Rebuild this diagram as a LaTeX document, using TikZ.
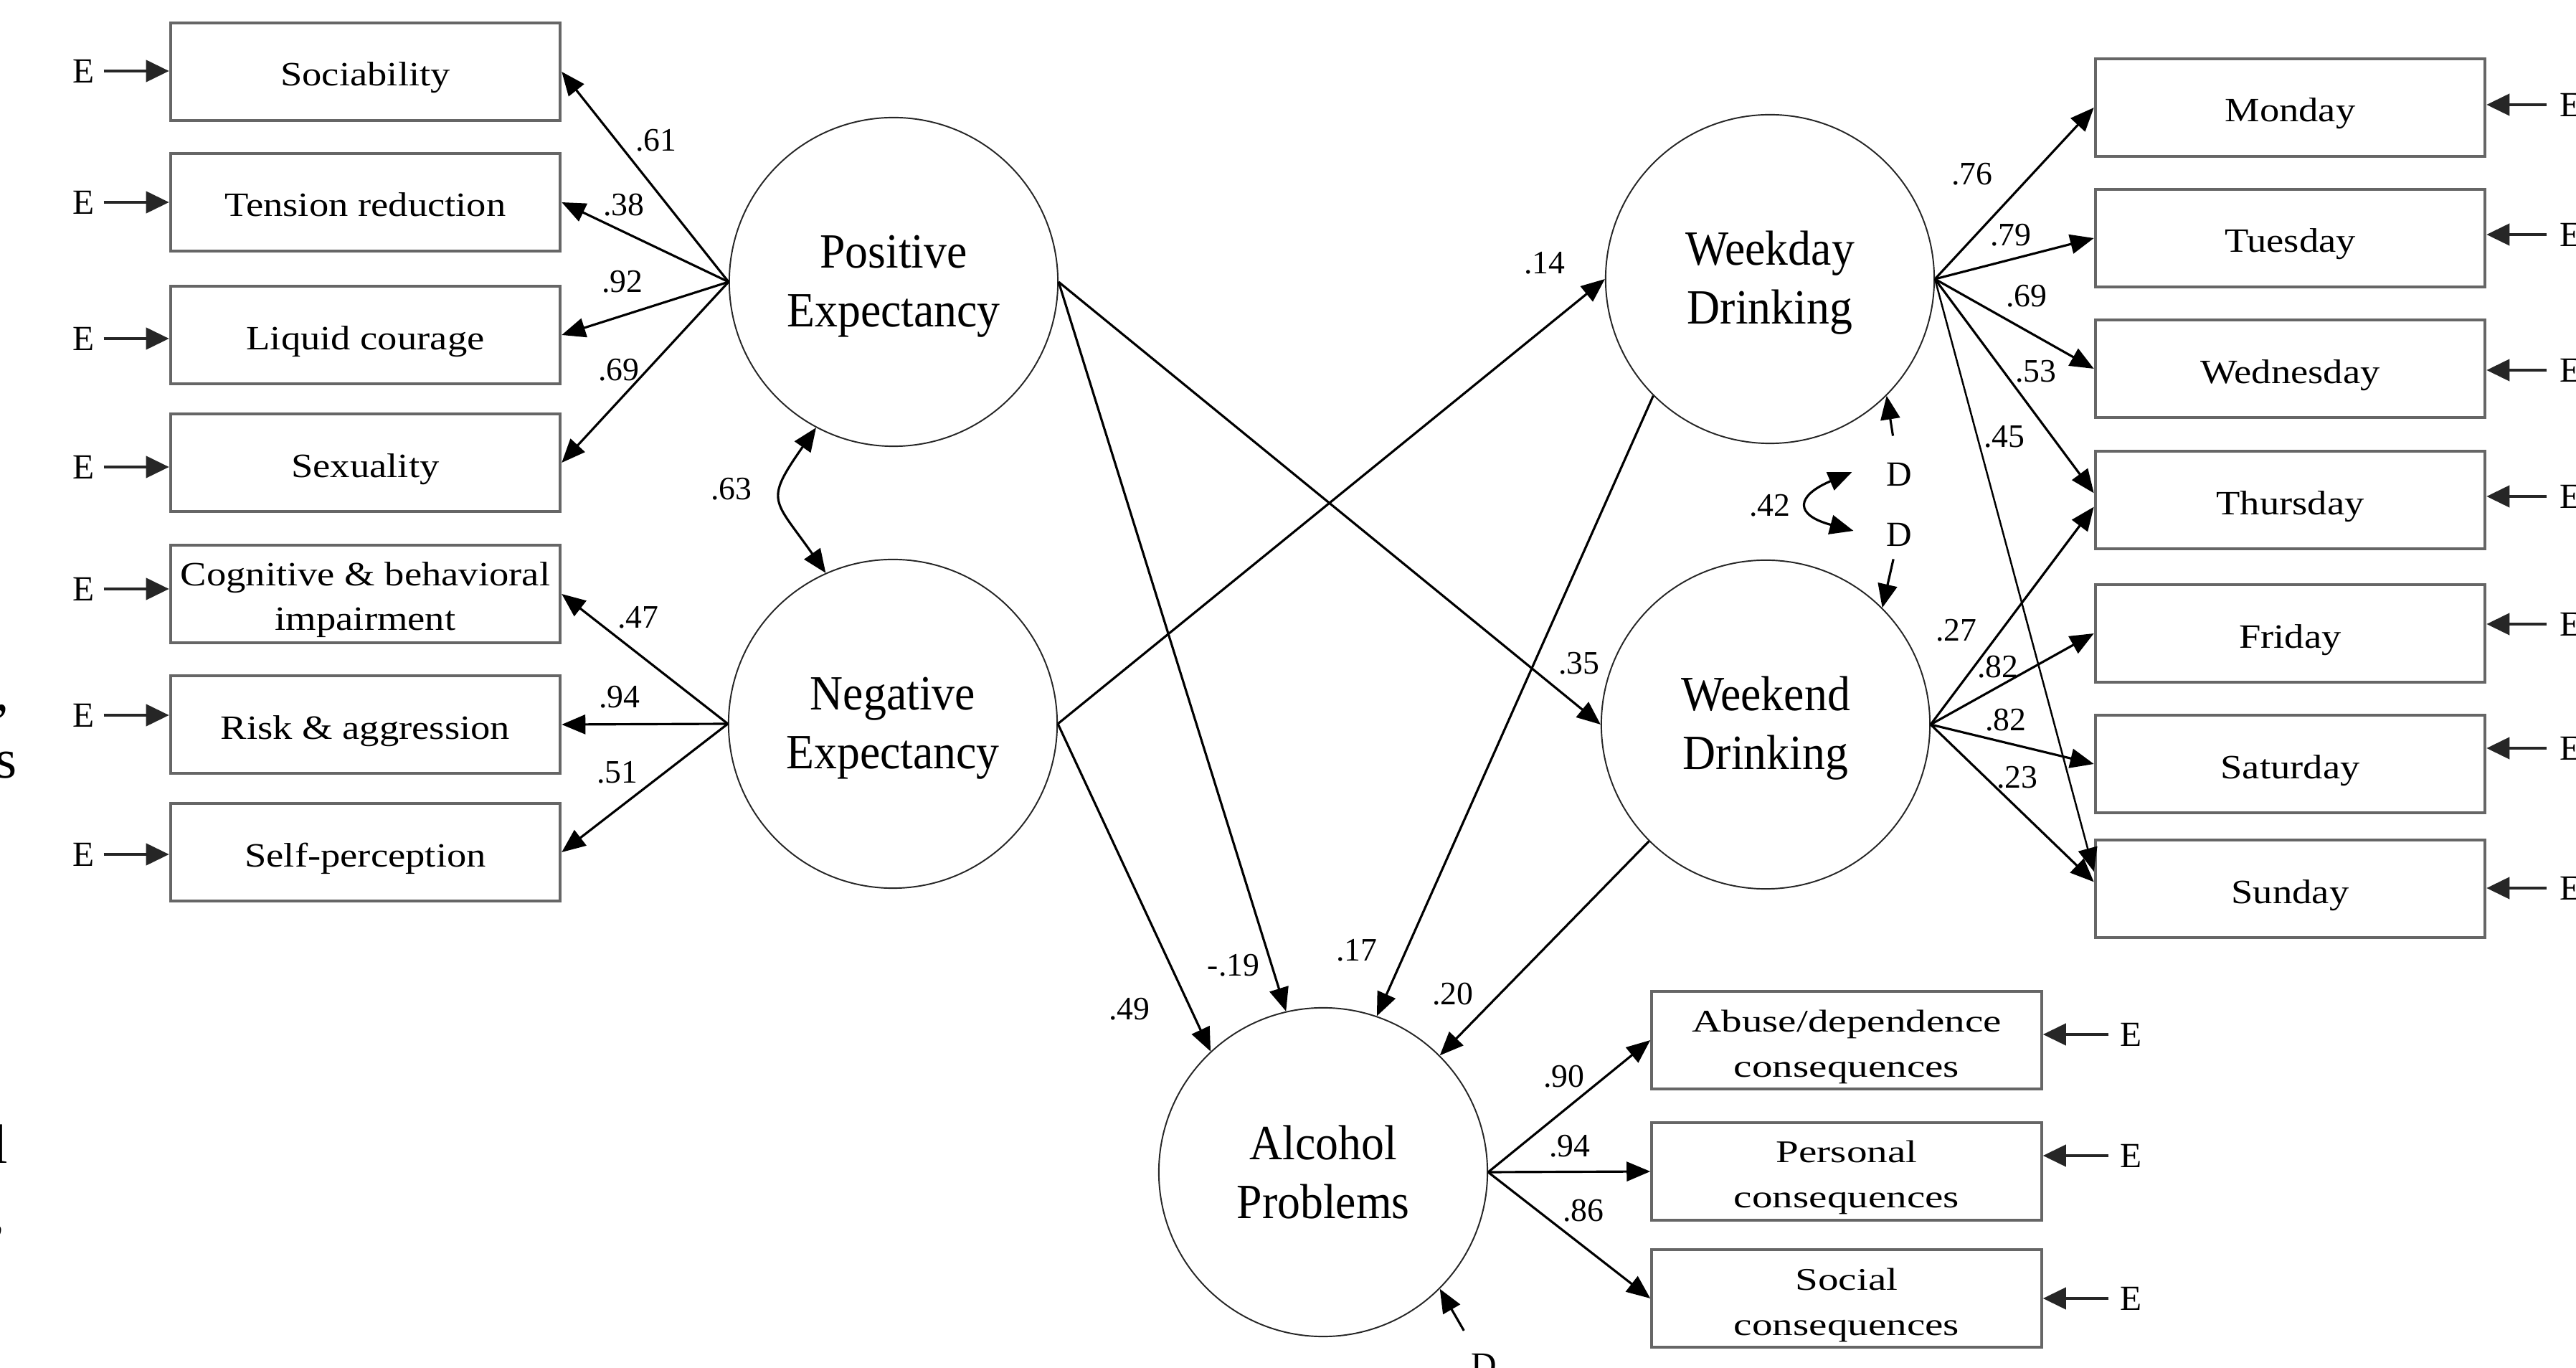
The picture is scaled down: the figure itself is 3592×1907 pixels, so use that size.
\documentclass[tikz,border=0pt]{standalone}
\usepackage{fontspec}
\setmainfont{Liberation Serif}
\newfontfamily\boxfont[FakeStretch=1.15]{Liberation Serif}
\newfontfamily\widefont[FakeStretch=1.3]{Liberation Serif}
\newfontfamily\circfont[FakeStretch=0.93]{Liberation Serif}
\newcommand{\tstrut}[1]{\rule{0pt}{#1}}
\usetikzlibrary{arrows.meta,calc}
\tikzset{
  obs/.style={draw=black!60, line width=1.2pt, minimum width=5.43cm, minimum height=1.36cm,
    inner sep=0pt, align=center, font=\boxfont\fontsize{13.5}{17.5}\selectfont},
  obsone/.style={obs, text height=0.4cm, text depth=0cm},
  obsw/.style={obs, font=\widefont\fontsize{12.5}{18}\selectfont},
  lat/.style={circle, draw=black!85, line width=0.55pt, minimum size=4.58cm, inner sep=0pt,
    align=center, font=\circfont\fontsize{19.5}{23.5}\selectfont},
  tip/.tip={Triangle[length=0.33cm,width=0.27cm]},
  conn/.style={line width=0.9pt, -tip},
  dbl/.style={line width=0.9pt, tip-tip},
  earr/.style={line width=1.2pt, black!85, -{Triangle[length=0.32cm,width=0.3cm]}, shorten <=0.12cm},
  lbl/.style={inner sep=0pt, font=\fontsize{13}{15}\selectfont},
  enode/.style={inner sep=0pt, font=\fontsize{14}{16}\selectfont},
  frag/.style={inner sep=0pt, font=\fontsize{22}{26}\selectfont},
}
\begin{document}
\begin{tikzpicture}[x=0.01cm,y=0.01cm]
\useasboundingbox (0,0) rectangle (3592,-1907);
\fill[white] (0,0) rectangle (3592,-1907);

% latent variables
\node[lat] (pos) at (1246,-393) {\tstrut{0.58cm}Positive\\Expectancy};
\node[lat] (neg) at (1245,-1009) {\tstrut{0.58cm}Negative\\Expectancy};
\node[lat] (wkd) at (2468,-389) {\tstrut{0.58cm}Weekday\\Drinking};
\node[lat] (wkn) at (2462,-1010) {\tstrut{0.58cm}Weekend\\Drinking};
\node[lat] (alc) at (1845,-1634) {Alcohol\\Problems};

% left indicators
\node[obsone] (soc) at (509.5,-100) {Sociability};
\node[obsone] (ten) at (509.5,-282) {Tension reduction};
\node[obsone] (liq) at (509.5,-467) {Liquid courage};
\node[obsone] (sex) at (509.5,-645) {Sexuality};
\node[obs] (cog) at (509.5,-828) {\tstrut{0.49cm}Cognitive \& behavioral\\impairment};
\node[obsone] (rsk) at (509.5,-1010) {Risk \& aggression};
\node[obsone] (slf) at (509.5,-1188) {Self-perception};

% right indicators
\node[obsone] (mon) at (3193.5,-150) {Monday};
\node[obsone] (tue) at (3193.5,-332) {Tuesday};
\node[obsone] (wed) at (3193.5,-514) {Wednesday};
\node[obsone] (thu) at (3193.5,-697) {Thursday};
\node[obsone] (fri) at (3193.5,-883) {Friday};
\node[obsone] (sat) at (3193.5,-1065) {Saturday};
\node[obsone] (sun) at (3193.5,-1239) {Sunday};

% bottom indicators
\node[obsw] (abu) at (2575,-1450) {\tstrut{0.5cm}Abuse/dependence\\consequences};
\node[obsw] (per) at (2575,-1633) {\tstrut{0.47cm}Personal\\consequences};
\node[obsw] (scl) at (2575,-1810) {\tstrut{0.5cm}Social\\consequences};

% loadings
\foreach \b in {soc,ten,liq,sex} \draw[conn] (pos.west) -- (\b.east);
\foreach \b in {cog,rsk,slf} \draw[conn] (neg.west) -- (\b.east);
\foreach \b in {mon,tue,wed} \draw[conn] (wkd.east) -- (\b.west);
\draw[conn] (wkd.east) -- (thu.178);
\draw[conn, line width=0.7pt] (wkd.east) -- (sun.175);
\draw[conn] (wkn.east) -- (thu.182);
\draw[conn] (wkn.east) -- (fri.west);
\draw[conn] (wkn.east) -- (sat.west);
\draw[conn] (wkn.east) -- (sun.178);
\foreach \b in {abu,per,scl} \draw[conn] (alc.east) -- (\b.west);

% structural paths
\draw[conn] (pos.east) -- (alc.103);
\draw[conn] (pos.east) -- (wkn.west);
\draw[conn] (neg.east) -- (wkd.west);
\draw[conn] (neg.east) -- (alc.133);
\draw[conn] (wkd.225) -- (alc.71);
\draw[conn] (wkn.225) -- (alc.45);

% covariance
\draw[dbl] (pos.242) to[out=235,in=125,looseness=1.6] (neg.114);

% disturbances
\node[enode] (d1) at (2648,-661) {D};
\node[enode] (d2) at (2648,-745) {D};
\node[enode] (d3) at (2069,-1903) {D};
\draw[conn, shorten <=0.37cm] (d1) -- (wkd.315);
\draw[conn, shorten <=0.18cm] (d2) -- (wkn.45);
\draw[conn, shorten <=0.36cm] (d3) -- (alc.315);
\coordinate (a42) at ($(d1.west)+(-47,3)$);
\coordinate (b42) at ($(d2.west)+(-45,5)$);
\draw[dbl] (a42) .. controls +(203:85) and +(165:86) .. (b42);

% errors left
\node[enode] (e1) at (117,-99) {E};
\node[enode] (e2) at (117,-282) {E};
\node[enode] (e3) at (117,-472) {E};
\node[enode] (e4) at (117,-651) {E};
\node[enode] (e5) at (117,-821) {E};
\node[enode] (e6) at (117,-997) {E};
\node[enode] (e7) at (117,-1191) {E};
\draw[earr] (e1) -- (soc.west |- e1);
\draw[earr] (e2) -- (ten.west |- e2);
\draw[earr] (e3) -- (liq.west |- e3);
\draw[earr] (e4) -- (sex.west |- e4);
\draw[earr] (e5) -- (cog.west |- e5);
\draw[earr] (e6) -- (rsk.west |- e6);
\draw[earr] (e7) -- (slf.west |- e7);

% errors right
\node[enode] (r1) at (3585,-146) {E};
\node[enode] (r2) at (3585,-327) {E};
\node[enode] (r3) at (3585,-516) {E};
\node[enode] (r4) at (3585,-692) {E};
\node[enode] (r5) at (3585,-870) {E};
\node[enode] (r6) at (3585,-1043) {E};
\node[enode] (r7) at (3585,-1238) {E};
\draw[earr, shorten <=0.18cm] (r1) -- (mon.east |- r1);
\draw[earr, shorten <=0.18cm] (r2) -- (tue.east |- r2);
\draw[earr, shorten <=0.18cm] (r3) -- (wed.east |- r3);
\draw[earr, shorten <=0.18cm] (r4) -- (thu.east |- r4);
\draw[earr, shorten <=0.18cm] (r5) -- (fri.east |- r5);
\draw[earr, shorten <=0.18cm] (r6) -- (sat.east |- r6);
\draw[earr, shorten <=0.18cm] (r7) -- (sun.east |- r7);

% errors bottom
\node[enode] (b1) at (2972,-1442) {E};
\node[enode] (b2) at (2972,-1611) {E};
\node[enode] (b3) at (2972,-1810) {E};
\draw[earr, shorten <=0.16cm] (b1) -- (abu.east |- b1);
\draw[earr, shorten <=0.16cm] (b2) -- (per.east |- b2);
\draw[earr, shorten <=0.16cm] (b3) -- (scl.east |- b3);

% coefficient labels
\node[lbl] (l1) at (915,-196) {.61};
\node[lbl] (l2) at (870,-286) {.38};
\node[lbl] (l3) at (868,-393) {.92};
\node[lbl] (l4) at (863,-516) {.69};
\node[lbl] (l5) at (890,-861) {.47};
\node[lbl] (l6) at (864,-972) {.94};
\node[lbl] (l7) at (861,-1077) {.51};
\node[lbl] (l8) at (1020,-682) {.63};
\node[lbl] (l9) at (2154,-367) {.14};
\node[lbl] (l10) at (2202,-925) {.35};
\node[lbl] (l11) at (1720,-1346) {-.19};
\node[lbl] (l12) at (1892,-1325) {.17};
\node[lbl] (l13) at (1575,-1407) {.49};
\node[lbl] (l14) at (2026,-1386) {.20};
\node[lbl] (l15) at (2750,-243) {.76};
\node[lbl] (l16) at (2804,-328) {.79};
\node[lbl] (l17) at (2826,-413) {.69};
\node[lbl] (l18) at (2839,-518) {.53};
\node[lbl] (l19) at (2795,-609) {.45};
\node[lbl] (l20) at (2468,-705) {.42};
\node[lbl] (l21) at (2728,-879) {.27};
\node[lbl] (l22) at (2786,-930) {.82};
\node[lbl] (l23) at (2797,-1004) {.82};
\node[lbl] (l24) at (2813,-1084) {.23};
\node[lbl] (l25) at (2181,-1501) {.90};
\node[lbl] (l26) at (2189,-1598) {.94};
\node[lbl] (l27) at (2208,-1688) {.86};

% clipped text fragments at the left edge
\node[frag, anchor=base east] (f1) at (14,-991) {,};
\node[frag, anchor=base east] (f2) at (24,-1085) {s};
\node[frag, anchor=base east] (f3) at (12,-1622) {l};
\node[frag, anchor=base east] (f4) at (8,-1716) {,};
\end{tikzpicture}
\end{document}
